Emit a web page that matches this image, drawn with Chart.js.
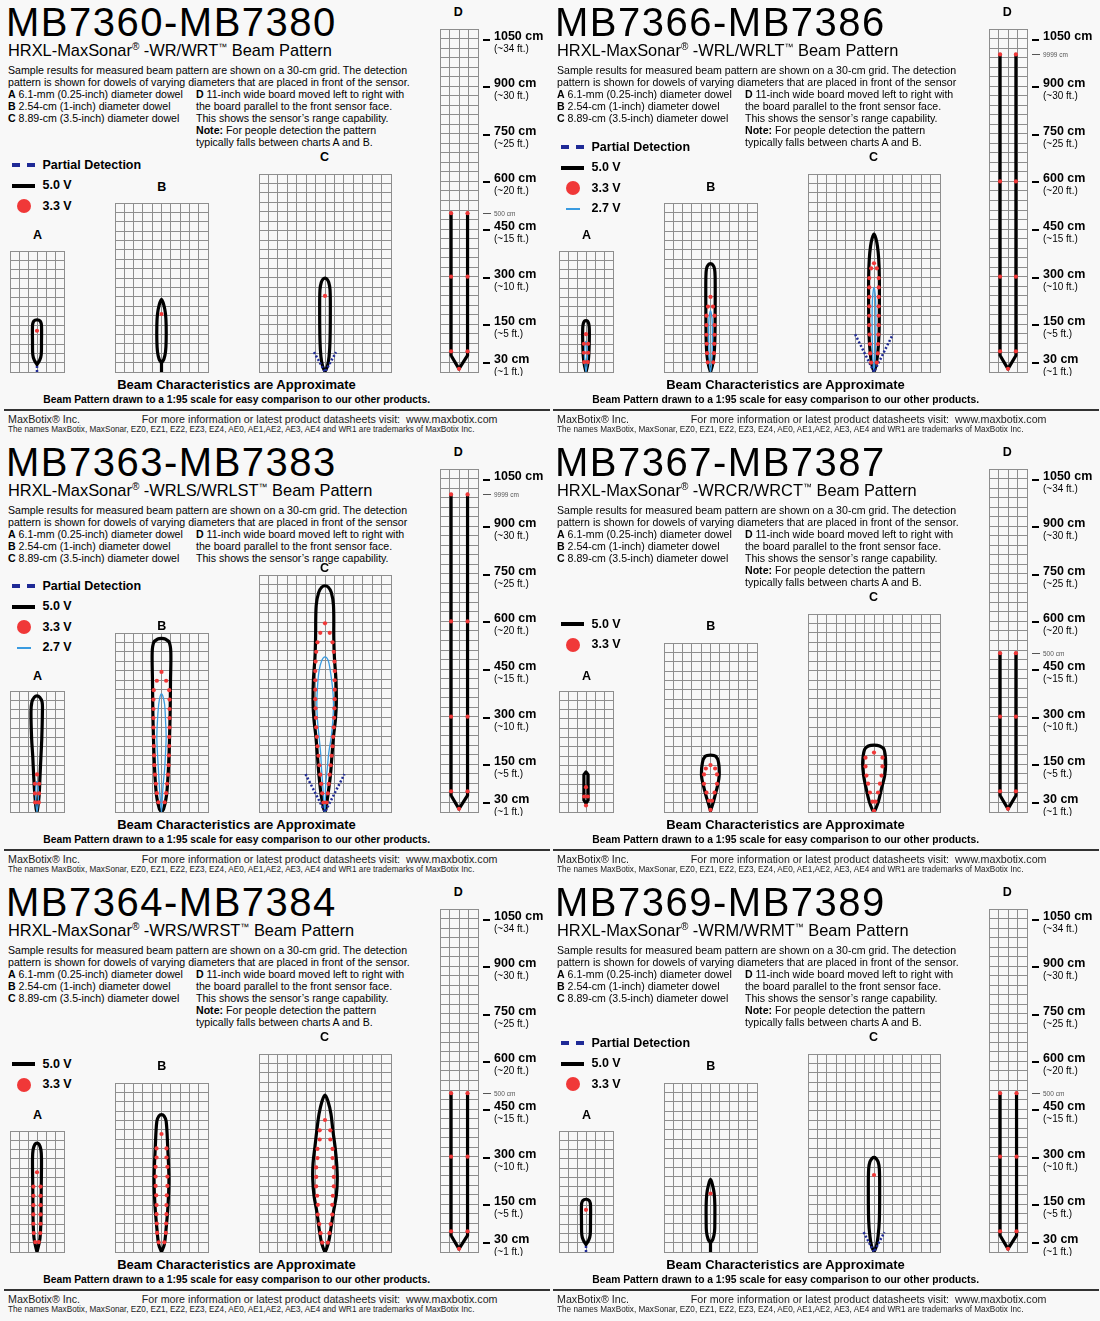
<!DOCTYPE html>
<html>
<head>
<meta charset="utf-8">
<title>HRXL-MaxSonar-WR beam patterns</title>
<script src="https://cdn.jsdelivr.net/npm/chart.js@4.4.1/dist/chart.umd.min.js"></script>
<style>
body{margin:0;background:#f8f8f8;}
#page{position:relative;width:1100px;height:1321px;overflow:hidden;background:#f8f8f8;
  font-family:"Liberation Sans",Arial,Helvetica,sans-serif;color:#000;}
.panel{position:absolute;width:550px;height:440px;}
.t{position:absolute;white-space:nowrap;}
.c{transform:translateX(-50%);}
canvas{position:absolute;}
.sym{position:absolute;}
</style>
</head>
<body>
<div id="page"></div>
<script>

// ---- data (cm, x measured from the sensor axis, y = distance from sensor) ----

var models   = ["MB7360-MB7380","MB7366-MB7386","MB7363-MB7383","MB7367-MB7387","MB7364-MB7384","MB7369-MB7389"];
var suffixes = ["WR/WRT","WRL/WRLT","WRLS/WRLST","WRCR/WRCT","WRS/WRST","WRM/WRMT"];
var hasPeriod = [true,false,false,true,true,true];
var hasNote   = [true,true,false,true,true,true];
var legends   = [["partial","v50","v33"],["partial","v50","v33","v27"],["partial","v50","v33","v27"],
                 ["v50","v33"],["v50","v33"],["partial","v50","v33"]];
var legendY   = [165,147,146,184,184,163];

var gridRows  = [[13,18,21,36],[13,18,21,36],[13,19,25,36],[13,18,21,36],[13,18,21,36],[13,18,21,36]];
var gridCols  = [6,10,14,4];
var letterY   = [[235,187,157,12],[235,187,157,12],[236,186,128,12],[236,186,157,12],[235,186,157,12],[235,186,157,12]];

var dTicks     = [30,150,300,450,600,750,900,1050];
var dTickText  = ["30 cm","150 cm","300 cm","450 cm","600 cm","750 cm","900 cm","1050 cm"];
var dTickFeet  = ["(~1 ft.)","(~5 ft.)","(~10 ft.)","(~15 ft.)","(~20 ft.)","(~25 ft.)","(~30 ft.)","(~34 ft.)"];
var dMarkValue = [500,1000,1000,500,500,500];
var dMarkText  = ["500 cm","9999 cm","9999 cm","500 cm","500 cm","500 cm"];
var dTopFeet   = [true,false,false,true,true,true];

// panel 1  MB7360
var p1A = {black:[[[0,24],[-9,38],[-14,55],[-15,100],[-15,150],[-12,162],[-6,167],[0,168],[6,167],[12,162],[15,150],[15,100],[14,55],[9,38],[0,24]]],
           dots:[[0,133]], partial:[[[0,0],[0,24]]]};
var p1B = {black:[[[0,29],[-8,42],[-13,65],[-15,100],[-15,150],[-13,185],[-8,212],[0,232],[8,212],[13,185],[15,150],[15,100],[13,65],[8,42],[0,29]],[[0,0],[0,29]]],
           dots:[[0,185]]};
var p1C = {black:[[[0,0],[-8,20],[-13,50],[-16,100],[-17,200],[-16,262],[-12,285],[-6,296],[0,299],[6,296],[12,285],[16,262],[17,200],[16,100],[13,50],[8,20],[0,0]]],
           dots:[[0,242]], partial:[[[-35,63],[0,0],[35,63]]]};
var p1D = {black:[[[-25,500],[-25,52],[0,10],[27,52],[27,500]]],
           dots:[[-25,500],[27,500],[-25,300],[27,300],[-25,65],[27,65],[0,10]]};

// panel 2  MB7366
var p2A = {black:[[[0,0],[-5,20],[-9,50],[-11,100],[-11,140],[-9,156],[-5,164],[0,166],[5,164],[9,156],[11,140],[11,100],[9,50],[5,20],[0,0]]],
           blue:[[[0,0],[-3,20],[-5,50],[-4,80],[-2,95],[0,99],[2,95],[4,80],[5,50],[3,20],[0,0]]],
           dots:[[0,122],[-7,91],[7,91],[-7,62],[7,62],[-6,32],[6,32]]};
var p2B = {black:[[[0,0],[-6,20],[-11,50],[-14,100],[-15,200],[-15,300],[-13,330],[-7,343],[0,346],[7,343],[13,330],[15,300],[15,200],[14,100],[11,50],[6,20],[0,0]]],
           blue:[[[0,0],[-3,20],[-5,60],[-6,120],[-5,170],[-2,190],[0,195],[2,190],[5,170],[6,120],[5,60],[3,20],[0,0]]],
           dots:[[0,240],[-8,209],[8,209],[-13,180],[13,180],[-13,150],[13,150],[-13,119],[13,119],[-12,90],[12,90],[-11,60],[11,60],[-9,31],[9,31]]};
var p2C = {black:[[[0,0],[-6,20],[-12,60],[-16,120],[-17,200],[-17,300],[-15,360],[-11,400],[-6,425],[0,439],[6,425],[11,400],[15,360],[17,300],[17,200],[16,120],[12,60],[6,20],[0,0]]],
           blue:[[[0,0],[-3,30],[-5,80],[-6,160],[-5,230],[-2,262],[0,268],[2,262],[5,230],[6,160],[5,80],[3,30],[0,0]]],
           dots:[[0,346],[-9,330],[9,330],[-15,299],[15,299],[-15,269],[15,269],[-15,239],[15,239],[-15,209],[15,209],[-15,179],[15,179],
                 [-15,149],[15,149],[-14,119],[14,119],[-13,89],[13,89],[-12,59],[12,59],[-9,30],[9,30]],
           partial:[[[-60,120],[0,0],[60,120]]]};
var p2D = {black:[[[-25,1000],[-25,52],[0,10],[25,52],[25,1000]]],
           dots:[[-25,1000],[25,1000],[-25,600],[25,600],[-25,300],[25,300],[-25,65],[25,65],[0,10]]};

// panel 3  MB7363
var p3A = {black:[[[0,0],[-3,10],[-7,52],[-11,114],[-14,176],[-18,239],[-20,322],[-17,355],[-9,370],[0,374],[9,370],[17,355],[18,322],[16,239],[13,176],[10,114],[7,52],[2,10],[0,0]]],
           blue:[[[0,0],[-3,20],[-5,50],[-4,80],[-2,95],[0,99],[2,95],[4,80],[5,50],[3,20],[0,0]]],
           dots:[[0,121],[-7,91],[7,91],[-7,60],[7,60],[-6,31],[6,31]]};
var p3B = {black:[[[0,0],[-7,10],[-16,52],[-21,114],[-24,176],[-26,239],[-28,322],[-29,415],[-30,509],[-25,540],[-12,551],[0,553],[12,551],[25,540],[30,509],[29,415],[28,322],[26,239],[24,176],[21,114],[16,52],[7,10],[0,0]]],
           blue:[[[0,0],[-3,31],[-7,83],[-10,135],[-13,187],[-15,239],[-13,291],[-9,343],[-4,370],[0,376],[4,370],[10,343],[13,291],[15,239],[13,187],[10,135],[5,83],[2,31],[0,0]]],
           dots:[[0,446],[-15,418],[15,418],[-25,388],[25,388],[-26,358],[26,358],[-26,328],[26,328],[-26,299],[26,299],[-26,269],[26,269],
                 [-25,239],[25,239],[-25,210],[25,210],[-24,180],[24,180],[-23,149],[23,149],[-21,119],[21,119],[-18,90],[18,90],[-15,60],[15,60],[-10,31],[10,31]]};
var p3C = {black:[[[0,0],[-4,10],[-12,52],[-19,114],[-24,176],[-29,239],[-35,291],[-38,343],[-37,415],[-32,488],[-30,550],[-28,654],[-20,695],[-10,712],[0,716],
                   [10,712],[20,695],[27,654],[28,550],[30,488],[35,415],[36,343],[33,291],[27,239],[22,176],[17,114],[9,52],[3,10],[0,0]]],
           blue:[[[0,0],[-4,31],[-7,83],[-11,135],[-14,187],[-19,239],[-24,291],[-26,343],[-24,394],[-19,446],[-10,480],[0,491],
                  [10,480],[17,446],[24,394],[27,343],[25,291],[20,239],[12,187],[7,135],[2,83],[1,31],[0,0]]],
           dots:[[0,597],[-15,567],[15,567],[-24,537],[24,537],[-28,507],[28,507],[-30,476],[30,476],[-31,446],[31,446],[-31,417],[31,417],
                 [-31,387],[31,387],[-31,357],[31,357],[-30,328],[30,328],[-29,298],[29,298],[-28,268],[28,268],[-26,238],[26,238],
                 [-24,208],[24,208],[-21,178],[21,178],[-18,148],[18,148],[-15,118],[15,118],[-12,89],[12,89],[-9,59],[9,59],[-5,30],[5,30]],
           partial:[[[-62,120],[0,0],[62,120]]]};
var p3D = {black:[[[-25,1000],[-25,52],[0,10],[27,52],[27,1000]]],
           dots:[[-25,1000],[27,1000],[-25,600],[27,600],[-25,300],[27,300],[-25,65],[27,65],[0,10]]};

// panel 4  MB7367
var p4A = {black:[[[0,28],[-7,38],[-7,120],[0,129],[7,120],[7,38],[0,28]]],
           dots:[[0,80],[-6,50],[6,50],[0,21]], straight:true};
var p4B = {black:[[[0,4],[-7,28],[-15,54],[-23,85],[-29,116],[-26,158],[-17,178],[0,182],[17,178],[26,158],[28,116],[23,85],[15,54],[8,28],[0,4]]],
           dots:[[0,150],[-15,139],[15,139],[-21,120],[21,120],[-21,90],[21,90],[-13,62],[13,62],[-5,36],[5,36],[0,7]]};
var p4C = {black:[[[0,0],[-5,7],[-15,33],[-25,75],[-33,116],[-36,158],[-30,199],[-18,210],[0,213],[18,210],[32,199],[37,158],[34,116],[24,75],[14,33],[4,7],[0,0]]],
           dots:[[0,189],[-27,173],[27,173],[-27,145],[27,145],[-24,116],[24,116],[-19,90],[19,90],[-13,62],[13,62],[-5,33],[5,33],[0,4]]};
var p4D = {black:[[[-25,500],[-25,52],[0,10],[25,52],[25,500]]],
           dots:[[-25,500],[25,500],[-25,300],[25,300],[-25,65],[25,65],[0,10]]};

// panel 5  MB7364
var p5A = {black:[[[0,0],[-5,20],[-10,45],[-13,100],[-14,200],[-15,300],[-13,330],[-7,347],[0,351],[7,347],[13,330],[15,300],[14,200],[13,100],[10,45],[5,20],[0,0]]],
           dots:[[0,257],[-12,211],[12,211],[-12,181],[12,181],[-12,151],[12,151],[-12,121],[12,121],[-12,91],[12,91],[-11,61],[11,61],[-6,32],[6,32]]};
var p5B = {black:[[[0,0],[-9,24],[-15,76],[-21,148],[-24,232],[-20,335],[-15,418],[-8,435],[0,439],[8,435],[15,418],[20,335],[24,232],[21,148],[15,76],[9,24],[0,0]]],
           dots:[[0,377],[-16,331],[16,331],[-16,302],[16,302],[-19,272],[19,272],[-19,241],[19,241],[-19,211],[19,211],[-17,181],[17,181],
                 [-16,150],[16,150],[-16,121],[16,121],[-15,91],[15,91],[-14,61],[14,61],[-9,31],[9,31]]};
var p5C = {black:[[[0,0],[-4,8],[-12,34],[-19,76],[-26,128],[-35,180],[-39,232],[-38,283],[-32,335],[-26,387],[-19,439],[-9,481],[0,499],
                   [9,481],[19,439],[25,387],[32,335],[37,283],[39,232],[36,180],[27,128],[19,76],[12,34],[4,8],[0,0]]],
           dots:[[0,420],[-17,387],[17,387],[-17,358],[17,358],[-24,328],[24,328],[-24,299],[24,299],[-28,269],[28,269],[-28,239],[28,239],
                 [-28,209],[28,209],[-25,179],[25,179],[-23,150],[23,150],[-23,119],[23,119],[-18,89],[18,89],[-14,60],[14,60],[-9,30],[9,30]]};
var p5D = {black:[[[-25,500],[-25,52],[0,10],[27,52],[27,500]]],
           dots:[[-25,500],[27,500],[-25,300],[27,300],[-25,65],[27,65],[0,10]]};

// panel 6  MB7369
var p6A = {black:[[[0,24],[-9,38],[-14,55],[-15,100],[-15,152],[-12,164],[-6,169],[0,170],[6,169],[12,164],[15,152],[15,100],[14,55],[9,38],[0,24]]],
           dots:[[0,136]], partial:[[[0,0],[0,24]]]};
var p6B = {black:[[[0,29],[-8,42],[-13,65],[-14,100],[-14,150],[-12,185],[-7,212],[0,232],[7,212],[12,185],[14,150],[14,100],[13,65],[8,42],[0,29]],[[0,0],[0,29]]],
           dots:[[0,187]]};
var p6C = {black:[[[0,0],[-8,20],[-13,50],[-17,100],[-18,200],[-17,264],[-13,287],[-6,298],[0,301],[6,298],[13,287],[17,264],[18,200],[17,100],[13,50],[8,20],[0,0]]],
           dots:[[0,245]], partial:[[[-33,63],[0,0],[33,63]]]};
var p6D = {black:[[[-25,500],[-25,52],[0,10],[27,52],[27,500]]],
           dots:[[-25,500],[27,500],[-25,300],[27,300],[-25,65],[27,65],[0,10]]};

var beams = [[p1A,p1B,p1C,p1D],[p2A,p2B,p2C,p2D],[p3A,p3B,p3C,p3D],[p4A,p4B,p4C,p4D],[p5A,p5B,p5C,p5D],[p6A,p6B,p6C,p6D]];

// ---- layout ----
var PANEL_X = [0,549,0,549,0,549];
var PANEL_Y = [0,0,440,440,880,880];
var GRID_LEFT = [8.3,113.3,256.7,438.3];
var CELL_W = [9.72,9.67,9.69,10];
var CELL_H = 9.63;
var GRID_BOTTOM = 374.3;
var FONT = '"Liberation Sans", Arial, Helvetica, sans-serif';
var GRID_COLOR = '#8e8e8e';

var page = document.getElementById('page');

function txt(parent, x, base, size, html, css){
  var d = document.createElement('div');
  d.className = 't';
  d.style.left = x + 'px';
  d.style.top = (base - 0.8465*size) + 'px';
  d.style.fontSize = size + 'px';
  d.style.lineHeight = size + 'px';
  if (css) d.style.cssText += css;
  d.innerHTML = html;
  parent.appendChild(d);
  return d;
}

function box(parent, x, y, w, h, css){
  var d = document.createElement('div');
  d.className = 'sym';
  d.style.cssText += 'left:'+x+'px;top:'+y+'px;width:'+w+'px;height:'+h+'px;' + (css||'');
  parent.appendChild(d);
  return d;
}

var dLabels = {
  id: 'dLabels',
  afterDraw: function(chart, args, o){
    var ctx = chart.ctx, ys = chart.scales.y, x0 = chart.chartArea.right;
    ctx.save();
    ctx.fillStyle = '#000';
    ctx.textBaseline = 'alphabetic';
    dTicks.forEach(function(v, i){
      var py = ys.getPixelForValue(v);
      ctx.fillRect(x0 + 5, Math.round(py), 7, 2);
      ctx.font = 'bold 12.5px ' + FONT;
      ctx.fillText(dTickText[i], x0 + 16, py + 1);
      if (i < dTicks.length - 1 || o.topFeet) {
        ctx.font = '10px ' + FONT;
        ctx.fillText(dTickFeet[i], x0 + 16, py + 13);
      }
    });
    var pm = Math.round(ys.getPixelForValue(o.markValue));
    ctx.fillStyle = '#555';
    ctx.fillRect(x0 + 5, pm, 8, 1);
    ctx.font = '6.5px ' + FONT;
    ctx.fillText(o.markText, x0 + 16, pm + 2.5);
    ctx.restore();
  }
};

function pts(list){ return list.map(function(p){ return {x:p[0], y:p[1]}; }); }

function makeGrid(panel, k, panelEl){
  var beam = beams[panel][k];
  var cols = gridCols[k], rows = gridRows[panel][k];
  var w = Math.round(cols*CELL_W[k]), h = Math.round(rows*CELL_H);
  var extra = (k === 3) ? 80 : 0;
  var left = Math.round(GRID_LEFT[k]) - 2;
  var top = Math.round(GRID_BOTTOM) - h - 2;
  var cv = document.createElement('canvas');
  cv.width = w + 4 + extra; cv.height = h + 4;
  cv.style.left = left + 'px'; cv.style.top = top + 'px';
  cv.style.width = cv.width + 'px'; cv.style.height = cv.height + 'px';
  panelEl.appendChild(cv);

  var ds = [];
  var tens = (k === 3 || beam.straight) ? 0 : 0.35;
  (beam.black || []).forEach(function(line){
    ds.push({data:pts(line), showLine:true, borderColor:'#000', borderWidth:3.2, pointRadius:0,
             tension: line.length > 2 ? tens : 0, order:4, borderJoinStyle:'round', borderCapStyle:'round'});
  });
  (beam.blue || []).forEach(function(line){
    ds.push({data:pts(line), showLine:true, borderColor:'#3a9be0', borderWidth:1.3, pointRadius:0,
             tension:0.35, order:3});
  });
  (beam.partial || []).forEach(function(line){
    ds.push({data:pts(line), showLine:true, borderColor:'#1f2a96', borderWidth:2.5, borderDash:[2,2],
             pointRadius:0, tension:0, order:2});
  });
  ds.push({data:pts(beam.dots || []), showLine:false, pointRadius:2.1, pointBorderWidth:0,
           backgroundColor:'#f03838', borderColor:'#f03838', order:1});

  var half = cols*15;
  var axis = function(min, max){
    return {type:'linear', min:min, max:max,
            ticks:{display:false, stepSize:30},
            grid:{color:GRID_COLOR, lineWidth:1, drawTicks:false},
            border:{color:GRID_COLOR, width:1}};
  };
  new Chart(cv, {
    type: 'scatter',
    data: {datasets: ds},
    options: {
      responsive:false, animation:false, events:[], devicePixelRatio:1,
      layout:{padding:{left:2, top:2, bottom:2, right:2 + extra}},
      plugins:{legend:{display:false}, tooltip:{enabled:false},
               dLabels:{markValue:dMarkValue[panel], markText:dMarkText[panel], topFeet:dTopFeet[panel]}},
      scales:{x:axis(-half, half), y:axis(0, rows*30)}
    },
    plugins: k === 3 ? [dLabels] : []
  });

  // chart letter
  var cx = GRID_LEFT[k] + cols*CELL_W[k]/2;
  txt(panelEl, cx, letterY[panel][k] + 4.5, 12.5, 'ABCD'.charAt(k), 'font-weight:bold;').classList.add('c');
}

function legendItem(el, type, yc){
  if (type === 'partial') {
    box(el, 12, yc - 2, 8, 4, 'background:#1f2a96;');
    box(el, 27, yc - 2, 8, 4, 'background:#1f2a96;');
    txt(el, 42.5, yc + 4.5, 12.5, 'Partial Detection', 'font-weight:bold;');
  } else if (type === 'v50') {
    box(el, 12, yc - 2, 23, 4, 'background:#000;');
    txt(el, 42.5, yc + 4.5, 12.5, '5.0 V', 'font-weight:bold;');
  } else if (type === 'v33') {
    box(el, 17, yc - 7, 14, 14, 'background:#f03838;border-radius:50%;');
    txt(el, 42.5, yc + 4.5, 12.5, '3.3 V', 'font-weight:bold;');
  } else {
    box(el, 17, yc - 1, 14, 2, 'background:#3a9be0;');
    txt(el, 42.5, yc + 4.5, 12.5, '2.7 V', 'font-weight:bold;');
  }
}

function buildPanel(p){
  var el = document.createElement('div');
  el.className = 'panel';
  el.style.left = PANEL_X[p] + 'px';
  el.style.top = PANEL_Y[p] + 'px';
  page.appendChild(el);

  txt(el, 6, 36, 40, models[p], 'letter-spacing:1.5px;');
  txt(el, 8, 56, 16.4, 'HRXL-MaxSonar<span style="font-size:10px;position:relative;top:-6px;">®</span> -' +
      suffixes[p] + '<span style="font-size:9px;position:relative;top:-6px;">™</span> Beam Pattern');

  var fs = 10.6;
  txt(el, 8, 74, fs, 'Sample results for measured beam pattern are shown on a 30-cm grid. The detection');
  txt(el, 8, 86, fs, 'pattern is shown for dowels of varying diameters that are placed in front of the sensor' + (hasPeriod[p] ? '.' : ''));
  txt(el, 8, 98, fs, '<b>A</b> 6.1-mm (0.25-inch) diameter dowel');
  txt(el, 8, 110, fs, '<b>B</b> 2.54-cm (1-inch) diameter dowel');
  txt(el, 8, 122, fs, '<b>C</b> 8.89-cm (3.5-inch) diameter dowel');
  txt(el, 196, 98, fs, '<b>D</b> 11-inch wide board moved left to right with');
  txt(el, 196, 110, fs, 'the board parallel to the front sensor face.');
  txt(el, 196, 122, fs, 'This shows the sensor’s range capability.');
  if (hasNote[p]) {
    txt(el, 196, 134, fs, '<b>Note:</b> For people detection the pattern');
    txt(el, 196, 146, fs, 'typically falls between charts A and B.');
  }

  legends[p].forEach(function(type, i){ legendItem(el, type, legendY[p] + i*20.5); });

  for (var k = 0; k < 4; k++) makeGrid(p, k, el);

  txt(el, 236.5, 389.5, 13, 'Beam Characteristics are Approximate', 'font-weight:bold;').classList.add('c');
  txt(el, 236.7, 403.5, 10.3, 'Beam Pattern drawn to a 1:95 scale for easy comparison to our other products.', 'font-weight:bold;').classList.add('c');
  box(el, 4, 408.5, 546, 2, 'background:#333;');
  txt(el, 8, 422.7, 10.7, 'MaxBotix® Inc.', 'color:#222;');
  txt(el, 141.7, 422.7, 10.7, 'For more information or latest product datasheets visit: &nbsp;www.maxbotix.com', 'color:#222;');
  txt(el, 8, 432.7, 8.2, 'The names MaxBotix, MaxSonar, EZ0, EZ1, EZ2, EZ3, EZ4, AE0, AE1,AE2, AE3, AE4 and WR1 are trademarks of MaxBotix Inc.', 'color:#222;');
}

for (var p = 0; p < 6; p++) buildPanel(p);

</script>
</body>
</html>
